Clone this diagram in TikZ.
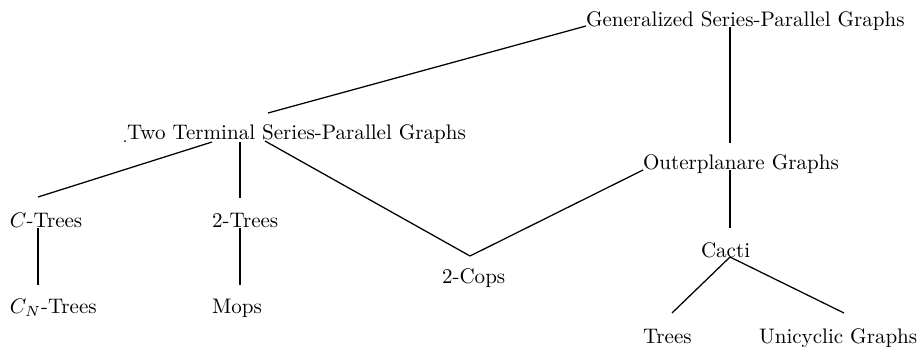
\documentclass[tikz,border=0pt]{standalone}
\begin{document}
\begin{tikzpicture}[
    x=0.475pt, y=-0.475pt,
    cls/.style={anchor=base west, inner sep=0pt, outer sep=0pt},
    edge/.style={line width=0.6pt},
  ]
  \useasboundingbox (0,0) rectangle (919,346);
  % classes
  \node[cls] (gen)   at (586,26)  {Generalized Series-Parallel Graphs};
  \node[cls] (tt)    at (127,139) {Two Terminal Series-Parallel Graphs};
  \node[cls] (outer) at (643,169) {Outerplanare Graphs};
  \node[cls] (cacti) at (701,257) {Cacti};
  \node[cls] (ctree) at (10,227)  {$C$-Trees};
  \node[cls] (ktree) at (212,227) {2-Trees};
  \node[cls] (cntree) at (10,313) {$C_N$-Trees};
  \node[cls] (mops)  at (212,313) {Mops};
  \node[cls] (cops)  at (442,283) {2-Cops};
  \node[cls] (trees) at (643,343) {Trees};
  \node[cls] (uni)   at (759,343) {Unicyclic Graphs};
  % joints
  \coordinate (gen-s)   at (730,27);
  \coordinate (tt-n)    at (268,113);
  \coordinate (tt-sw)   at (212,142);
  \coordinate (tt-s)    at (240,142);
  \coordinate (tt-se)   at (265,141);
  \coordinate (outer-n) at (730,143);
  \coordinate (outer-s) at (730,170);
  \coordinate (outer-w) at (643,170);
  \coordinate (cacti-n) at (730,228);
  \coordinate (cacti-s) at (730,257);
  \coordinate (ctree-n) at (38,197);
  \coordinate (ctree-s) at (38,228);
  \coordinate (ktree-n) at (240,198);
  \coordinate (ktree-s) at (240,228);
  \coordinate (cntree-n) at (38,285);
  \coordinate (mops-n)  at (240,285);
  \coordinate (cops-n)  at (470,256);
  \coordinate (trees-n) at (672,313);
  \coordinate (uni-n)   at (844,313);
  \fill (125,141) circle (1);
  % inclusions
  \draw[edge] (gen.base west) -- (tt-n);
  \draw[edge] (gen-s) -- (outer-n);
  \draw[edge] (tt-sw) -- (ctree-n);
  \draw[edge] (tt-s) -- (ktree-n);
  \draw[edge] (tt-se) -- (cops-n);
  \draw[edge] (cops-n) -- (outer-w);
  \draw[edge] (outer-s) -- (cacti-n);
  \draw[edge] (cacti-s) -- (trees-n);
  \draw[edge] (cacti-s) -- (uni-n);
  \draw[edge] (ctree-s) -- (cntree-n);
  \draw[edge] (ktree-s) -- (mops-n);
\end{tikzpicture}
\end{document}
